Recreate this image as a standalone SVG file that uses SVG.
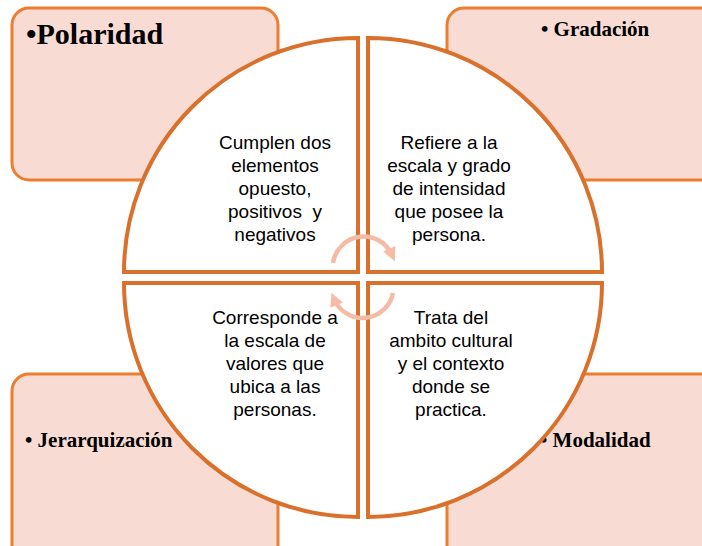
<svg xmlns="http://www.w3.org/2000/svg" width="702" height="546" viewBox="0 0 702 546">
<defs>
<style>
.box{fill:#f8dbd3;stroke:#ed7d31;stroke-width:3}
.quad{fill:#ffffff;stroke:#d9702b;stroke-width:4;stroke-linejoin:miter}
.head{font-family:"Liberation Serif","Times New Roman",serif;font-weight:bold;fill:#000}
.body{font-family:"Liberation Sans",Arial,sans-serif;font-size:19px;fill:#000;text-anchor:middle}
.cyc{fill:none;stroke:#f5bba5;stroke-width:4.5}
</style>
<marker id="ah" viewBox="0 0 10 10" refX="5" refY="5" markerWidth="3" markerHeight="3" orient="auto" markerUnits="strokeWidth">
<path d="M0,0 L10,5 L0,10 Z" fill="#f5bba5"/>
</marker>
</defs>
<rect width="702" height="546" fill="#ffffff"/>
<g id="box-polaridad">
<rect class="box" x="12" y="8" width="266" height="172" rx="17"/>
<text class="head" x="26" y="44" font-size="30">•Polaridad</text>
</g>
<g id="box-gradacion">
<rect class="box" x="447" y="8" width="270" height="172" rx="17"/>
<text class="head" x="541" y="36" font-size="21">• Gradación</text>
</g>
<g id="box-jerarquizacion">
<rect class="box" x="12" y="374" width="266" height="190" rx="17"/>
<text class="head" x="25" y="447" font-size="21">• Jerarquización</text>
</g>
<g id="box-modalidad">
<rect class="box" x="447" y="374" width="270" height="190" rx="17"/>
<text class="head" x="540" y="447" font-size="21">• Modalidad</text>
</g>
<g id="quad-tl">
<path class="quad" d="M358 272 L124 272 A234 234 0 0 1 358 38 Z"/>
<text class="body"><tspan x="275" y="149">Cumplen dos</tspan><tspan x="275" y="172">elementos</tspan><tspan x="275" y="195">opuesto,</tspan><tspan x="275" y="218" xml:space="preserve">positivos  y</tspan><tspan x="275" y="241">negativos</tspan></text>
</g>
<g id="quad-tr">
<path class="quad" d="M368 272 L368 38 A234 234 0 0 1 602 272 Z"/>
<text class="body"><tspan x="449" y="149">Refiere a la</tspan><tspan x="449" y="172">escala y grado</tspan><tspan x="449" y="195">de intensidad</tspan><tspan x="449" y="218">que posee la</tspan><tspan x="449" y="241">persona.</tspan></text>
</g>
<g id="quad-bl">
<path class="quad" d="M358 283 L358 517 A234 234 0 0 1 124 283 Z"/>
<text class="body"><tspan x="275" y="324">Corresponde a</tspan><tspan x="275" y="347">la escala de</tspan><tspan x="275" y="370">valores que</tspan><tspan x="275" y="393">ubica a las</tspan><tspan x="275" y="416">personas.</tspan></text>
</g>
<g id="quad-br">
<path class="quad" d="M368 283 L602 283 A234 234 0 0 1 368 517 Z"/>
<text class="body"><tspan x="451" y="324">Trata del</tspan><tspan x="451" y="347">ambito cultural</tspan><tspan x="451" y="370">y el contexto</tspan><tspan x="451" y="393">donde se</tspan><tspan x="451" y="416">practica.</tspan></text>
</g>
<g id="connectors">
<path class="cyc" d="M333 263 A31 31 0 0 1 392 255" marker-end="url(#ah)"/>
<path class="cyc" d="M393 293 A31 31 0 0 1 334 299" marker-end="url(#ah)"/>
</g>
</svg>
